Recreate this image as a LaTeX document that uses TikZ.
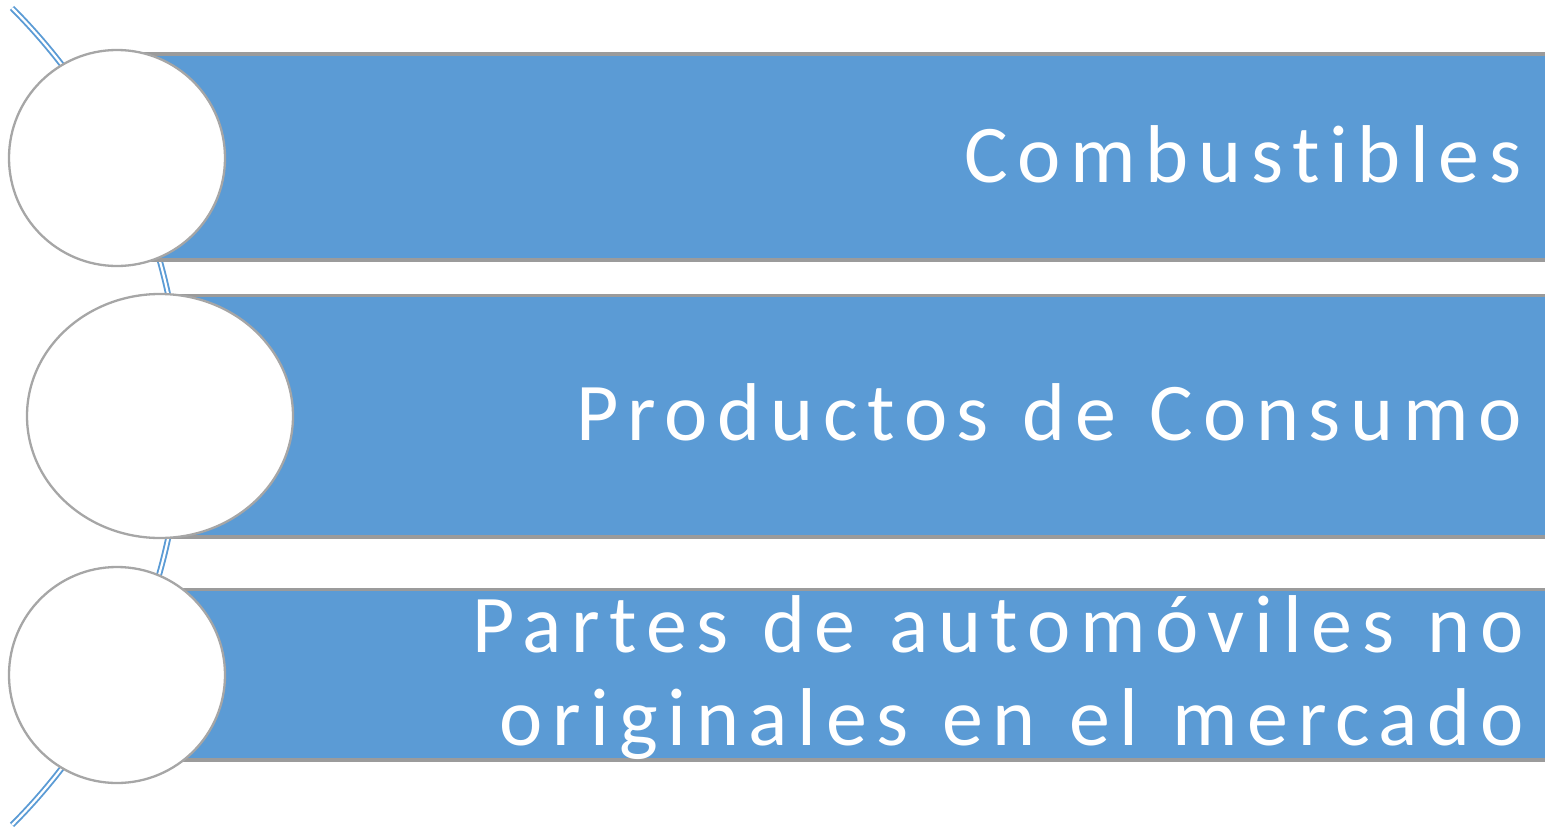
\documentclass[tikz,border=0pt]{standalone}
\usepackage{fontspec}
\usetikzlibrary{shapes.geometric}
\newfontfamily\barfont[LetterSpace=11.8,WordSpace=1.19,Ligatures=NoCommon]{Carlito}
\definecolor{barblue}{HTML}{5B9BD5}
\definecolor{bargray}{HTML}{9B9B9B}
\definecolor{ringgray}{HTML}{A6A6A6}
\begin{document}
\begin{tikzpicture}[x=1pt,y=-1pt,
  bar/.style={fill=barblue,draw=bargray,line width=3.8},
  ring/.style={fill=white,draw=ringgray,line width=2.3},
  label/.style={inner sep=0,text=white,font=\barfont\fontsize{82}{93}\selectfont}]
\useasboundingbox (0,0) rectangle (1545,827);
\clip (0,0) rectangle (1545,827);
% decorative arc
\coordinate (arcstart) at (12,8);
\draw[draw=barblue,double=white,line width=1.9,double distance=2.2]
  (arcstart) arc[start angle=-44.97,end angle=44.97,radius=578] coordinate (arcend);
% bars
\draw[bar] (117,54) rectangle (1560,260);
\draw[bar] (160,295.5) rectangle (1560,537);
\draw[bar] (117,589.5) rectangle (1560,760);
% circles
\node[ring,circle,minimum size=216,inner sep=0] (c1) at (117,158) {};
\node[ring,ellipse,minimum width=266,minimum height=244,inner sep=0] (c2) at (160,416) {};
\node[ring,circle,minimum size=216,inner sep=0] (c3) at (117,675) {};
% labels
\node[label,anchor=base east] (t1) at (1522,182) {Combustibles};
\node[label,anchor=base east] (t2) at (1522,440) {Productos de Consumo};
\node[label,anchor=base east,align=right] (t3) at (1524,745) {Partes de automóviles no\\originales en el mercado};
\end{tikzpicture}
\end{document}
